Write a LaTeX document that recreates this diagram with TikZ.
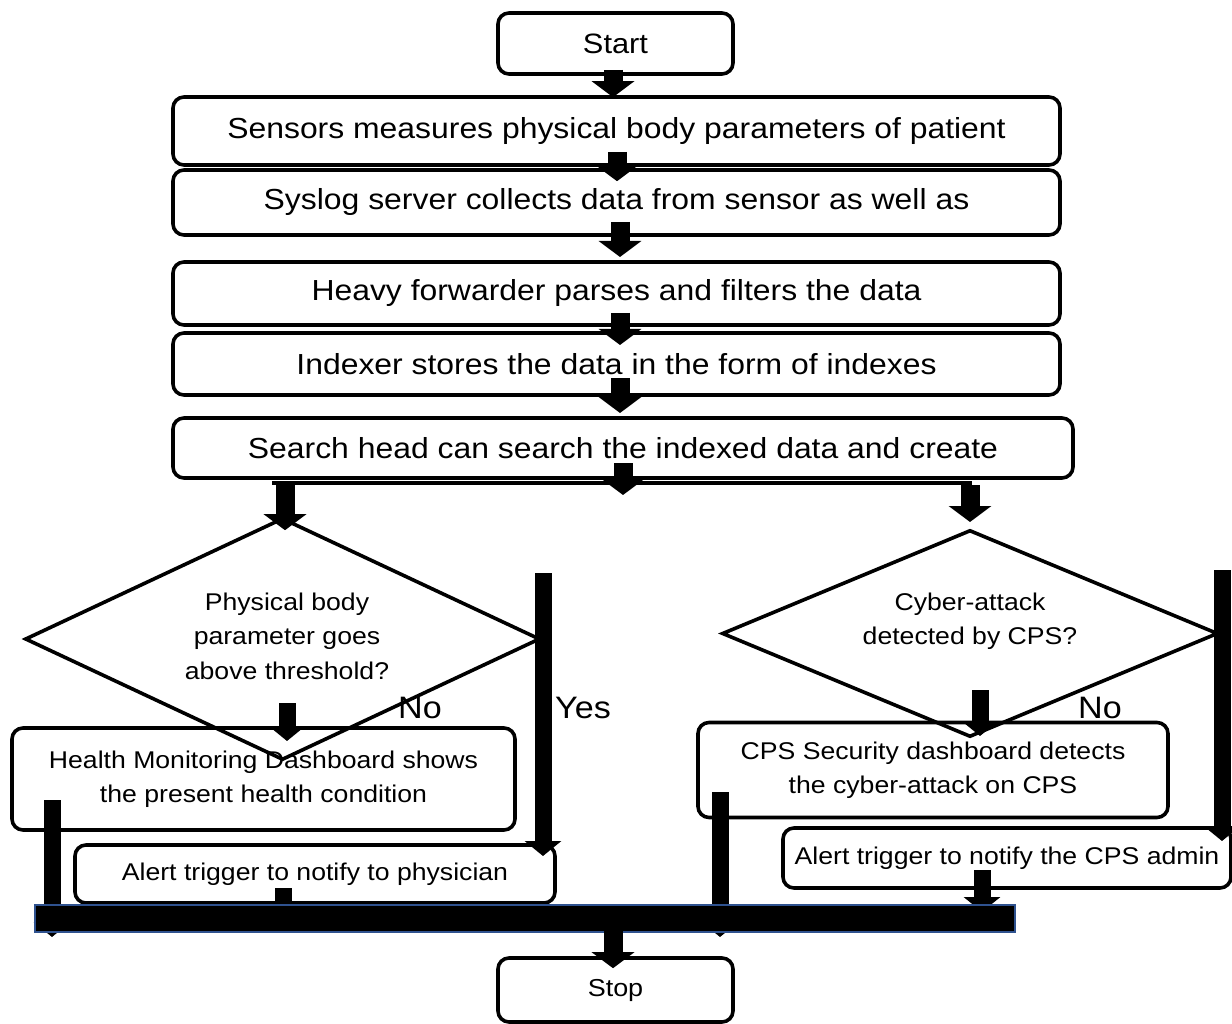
\documentclass[tikz,border=0pt]{standalone}
\usepackage{fontspec}
\setmainfont[FakeStretch=1.1]{Liberation Sans}
\usetikzlibrary{shapes.geometric,arrows.meta,calc}
\definecolor{barblue}{HTML}{2F528F}
\begin{document}
\begin{tikzpicture}[x=1pt,y=-1pt,
  box/.style={draw, line width=3.6pt, rounded corners=11pt, fill=white, inner sep=0pt, align=center},
  dia/.style={draw, diamond, line width=3.6pt, inner sep=0pt},
  fat/.style={line width=19pt, -{Triangle[width=42pt,length=16pt]}},
  thinfat/.style={line width=17pt, -{Triangle[width=36pt,length=15pt]}},
  big/.style={font=\fontsize{29}{33}\selectfont},
  mid/.style={font=\fontsize{24.2}{34.5}\selectfont},
  lab/.style={font=\fontsize{31}{34}\selectfont, inner sep=0pt}
]
\useasboundingbox (0,0) rectangle (1232,1024);

% boxes
\node[box, font=\fontsize{28}{32}\selectfont, minimum width=235pt, minimum height=61pt] (start) at (615.5,43.5) {Start};
\node[box, big, minimum width=887pt, minimum height=68pt] (b1) at (616.5,131) {Sensors measures physical body parameters of patient};
\node[box, big, minimum width=887pt, minimum height=65pt] (b2) at (616.5,202.5) {Syslog server collects data from sensor as well as};
\node[box, big, minimum width=887pt, minimum height=63pt] (b3) at (616.5,293.5) {Heavy forwarder parses and filters the data};
\node[box, big, minimum width=887pt, minimum height=62pt] (b4) at (616.5,364) {Indexer stores the data in the form of indexes};
\node[box, big, minimum width=900pt, minimum height=60pt] (b5) at (623,448) {Search head can search the indexed data and create};
\node[box, mid, minimum width=503pt, minimum height=102pt] (health) at (263.5,779) {Health Monitoring Dashboard shows\\the present health condition};
\node[box, mid, minimum width=480pt, minimum height=58pt] (alertl) at (315,874) {Alert trigger to notify to physician};
\node[box, mid, minimum width=470pt, minimum height=95pt] (cps) at (933,770) {CPS Security dashboard detects\\the cyber-attack on CPS};
\node[box, mid, minimum width=448pt, minimum height=60pt] (alertr) at (1007,858) {Alert trigger to notify the CPS admin};
\node[box, font=\fontsize{24.5}{28}\selectfont, minimum width=235pt, minimum height=64pt] (stop) at (615.5,990) {Stop};

% diamonds
\node[dia, minimum width=515pt, minimum height=242pt] (d1) at (282.5,639) {};
\node[mid, align=center, inner sep=0pt] (d1t) at (287,636) {Physical body\\parameter goes\\above threshold?};
\node[dia, minimum width=496pt, minimum height=207pt] (d2) at (970,633.5) {};
\node[mid, align=center, inner sep=0pt] (d2t) at (970,621) {Cyber-attack\\detected by CPS?};

% labels
\node[lab] (no1) at (420,708) {No};
\node[lab] (yes1) at (583,708) {Yes};
\node[lab] (no2) at (1100,708) {No};

% named free ends
\coordinate (s5) at (623,463);
\coordinate (e5) at (623,495);
\coordinate (hl) at (272,483);
\coordinate (hr) at (972,483);
\coordinate (la) at (285,485);
\coordinate (ra) at (970,485);
\coordinate (y1) at (543,573);
\coordinate (y2) at (1222,570);
\coordinate (hb) at (52,800);
\coordinate (hbe) at (52,937);
\coordinate (cb) at (720,792);
\coordinate (cbe) at (720,937);

% arrows
\draw[fat] ([yshift=6pt]start.south -| 613,0) -- ([yshift=-2pt]b1.north -| 613,0);
\draw[fat] (617,152) -- ([yshift=-13pt]b2.north -| 617,0);
\draw[fat] (620,222) -- (620,257);
\draw[fat] (620,313) -- (620,345);
\draw[fat] (620,378) -- (620,413);
\draw[fat] (s5) -- (e5);
\draw[line width=4pt] (hl) -- (hr);
\draw[fat] (la) -- (la |- d1.north) -- ++(0,14);
\draw[fat] (ra) -- (970,522);
\draw[thinfat] (287,703) -- (287,741);
\draw[thinfat] (980,690) -- (980,736);
\draw[thinfat] (y1) -- (543,856);
\draw[thinfat] (y2) -- (1222,841);
\draw[thinfat] (hb) -- (hbe);
\draw[thinfat] (cb) -- (cbe);
\draw[thinfat] (283,888) -- (283,925);
\draw[thinfat] (982,870) -- (982,912);

% collecting bar
\node[draw=barblue, fill=black, line width=1.5pt, minimum width=980pt, minimum height=27pt, inner sep=0pt] (bar) at (525,918.5) {};
\draw[fat] ([yshift=2pt]bar.south -| 613,0) -- (stop.north -| 613,0) -- ++(0,12);
\end{tikzpicture}
\end{document}
